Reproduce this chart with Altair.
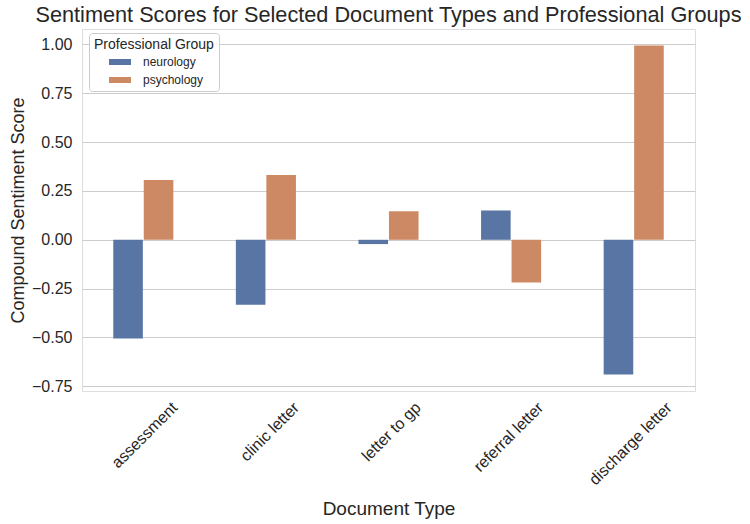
import altair as alt
import pandas as pd

doc_types = ["assessment", "clinic letter", "letter to gp", "referral letter", "discharge letter"]
groups = ["neurology", "psychology"]
neurology = [-0.505, -0.332, -0.022, 0.150, -0.689]
psychology = [0.306, 0.332, 0.146, -0.219, 0.995]
y_ticks = [-0.75, -0.50, -0.25, 0.00, 0.25, 0.50, 0.75, 1.00]
colors = ["#5975a4", "#cc8963"]

rows = []
for i, d in enumerate(doc_types):
    rows.append({"Document Type": d, "Professional Group": groups[0], "score": neurology[i]})
    rows.append({"Document Type": d, "Professional Group": groups[1], "score": psychology[i]})
df = pd.DataFrame(rows)

TXT = "#262626"
FONT = "Liberation Sans"

label_shift = [26, 25, 24, 24, 30]
offset_cond = {
    "condition": [{"test": f"datum.value == '{d}'", "value": o} for d, o in zip(doc_types, label_shift)],
    "value": 26,
}

chart = alt.Chart(df).mark_bar().encode(
    x=alt.X(
        "Document Type:N",
        sort=doc_types,
        scale=alt.Scale(paddingInner=0.51, paddingOuter=0.255),
        axis=alt.Axis(
            title="Document Type",
            labelAngle=-45,
            labelAlign="right",
            labelBaseline="top",
            labelPadding=8,
            labelOffset=offset_cond,
            labelFontSize=16,
            labelFont=FONT,
            labelColor=TXT,
            titleFontSize=19,
            titleFont=FONT,
            titleFontWeight="normal",
            titleColor=TXT,
            titleY=117,
            titleBaseline="middle",
            domain=False,
            ticks=False,
            grid=False,
        ),
    ),
    xOffset=alt.XOffset("Professional Group:N", sort=groups, scale=alt.Scale(paddingInner=0.03)),
    y=alt.Y(
        "score:Q",
        scale=alt.Scale(domain=[-0.774, 1.079], nice=False, zero=False),
        axis=alt.Axis(
            title="Compound Sentiment Score",
            values=y_ticks,
            format=".2f",
            labelFontSize=16,
            labelFont=FONT,
            labelColor=TXT,
            labelPadding=10,
            titleFontSize=18,
            titleFont=FONT,
            titleFontWeight="normal",
            titleColor=TXT,
            titleX=-64,
            titleY=181,
            titleBaseline="middle",
            domain=False,
            ticks=False,
            grid=True,
            gridColor="#cccccc",
            gridWidth=1,
        ),
    ),
    color=alt.Color(
        "Professional Group:N",
        scale=alt.Scale(domain=groups, range=colors),
        legend=alt.Legend(
            title="Professional Group",
            orient="none",
            legendX=7,
            legendY=4,
            direction="vertical",
            strokeColor="#cccccc",
            fillColor="white",
            cornerRadius=3,
            padding=5,
            titleFontSize=14,
            titleFont=FONT,
            titleFontWeight="normal",
            titleColor=TXT,
            titlePadding=4,
            labelFontSize=12,
            labelFont=FONT,
            labelColor=TXT,
            symbolType="M-2.2,-0.6L2.2,-0.6L2.2,0.6L-2.2,0.6Z",
            symbolSize=100,
            symbolOffset=20,
            symbolStrokeWidth=0,
            labelOffset=17,
            rowPadding=6,
        ),
    ),
).properties(
    width=613,
    height=362,
    title=alt.TitleParams(
        "Sentiment Scores for Selected Document Types and Professional Groups",
        fontSize=21.7,
        font=FONT,
        fontWeight="normal",
        color=TXT,
        anchor="middle",
        offset=2,
    ),
    autosize=alt.AutoSizeParams(type="none"),
    padding={"left": 82, "top": 29, "right": 55, "bottom": 133},
).configure_view(
    stroke="#cccccc", strokeWidth=1.25
).configure(background="white")

chart.save("out.html", embed_options={"renderer": "svg", "actions": False})
